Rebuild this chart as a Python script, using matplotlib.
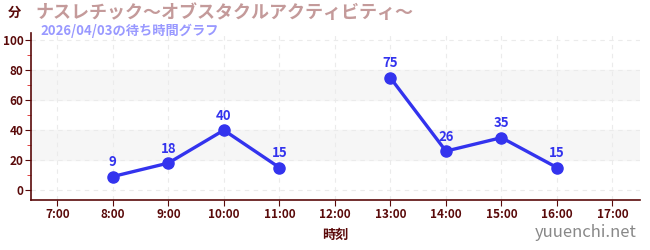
import numpy as np
import matplotlib.pyplot as plt
from matplotlib.ticker import MultipleLocator

plt.rcParams["font.family"] = ["Noto Sans CJK JP", "DejaVu Sans"]

hours = [8, 9, 10, 11, 12, 13, 14, 15, 16]
waits = [9, 18, 40, 15, np.nan, 75, 26, 35, 15]
xtick_hours = list(range(7, 18))
xtick_labels = [f"{h}:00" for h in xtick_hours]
bands = [(20, 40), (60, 80)]

title = "ナスレチック～オブスタクルアクティビティ～"
subtitle = "2026/04/03の待ち時間グラフ"

axis_col = "#5a0a0a"
line_col = "#3333ee"

fig = plt.figure(figsize=(6.5, 2.5), dpi=100)
ax = fig.add_axes([0.048, 0.2, 0.937, 0.668])

for lo, hi in bands:
    ax.axhspan(lo, hi, color="#f6f6f6", zorder=0)

ax.plot(hours, waits, color=line_col, lw=2.4, marker="o", ms=8, zorder=3)
for h, w in zip(hours, waits):
    if not np.isnan(w):
        ax.text(h, w + 5, f"{w:.0f}", color=line_col, ha="center", va="bottom",
                fontsize=9.5, fontweight="bold")

ax.set_xlim(6.53, 17.5)
ax.set_ylim(-6.7, 105)
ax.set_xticks(xtick_hours)
ax.set_xticklabels(xtick_labels)
ax.set_yticks([0, 20, 40, 60, 80, 100])
ax.yaxis.set_minor_locator(MultipleLocator(10))
ax.tick_params(axis="y", which="minor", length=3, color="#dd2222")
ax.tick_params(axis="both", which="major", length=4, color=axis_col,
               labelcolor=axis_col, labelsize=8.5, pad=1.5)
for lbl in ax.get_xticklabels() + ax.get_yticklabels():
    lbl.set_fontweight("bold")

ax.grid(True, which="major", color="#ebebeb", ls=(0, (4, 4)), lw=0.8)
ax.set_axisbelow(True)
for s in ["top", "right"]:
    ax.spines[s].set_visible(False)
for s in ["left", "bottom"]:
    ax.spines[s].set_color(axis_col)
    ax.spines[s].set_linewidth(1.2)

ax.set_xlabel("時刻", color=axis_col, fontsize=9.5, fontweight="bold", labelpad=5)

fig.text(0.012, 0.95, "分", color=axis_col, fontsize=9.5, fontweight="bold", va="center")
fig.text(0.054, 0.95, title, color="#c49a9a", fontsize=13, fontweight="bold", va="center")
fig.text(0.062, 0.878, subtitle, color="#9999ff", fontsize=9.5, fontweight="bold", va="center")
fig.text(0.98, 0.07, "yuuenchi.net", color="#888888", fontsize=12, ha="right", va="center")

fig.savefig("out.png", dpi=100)
